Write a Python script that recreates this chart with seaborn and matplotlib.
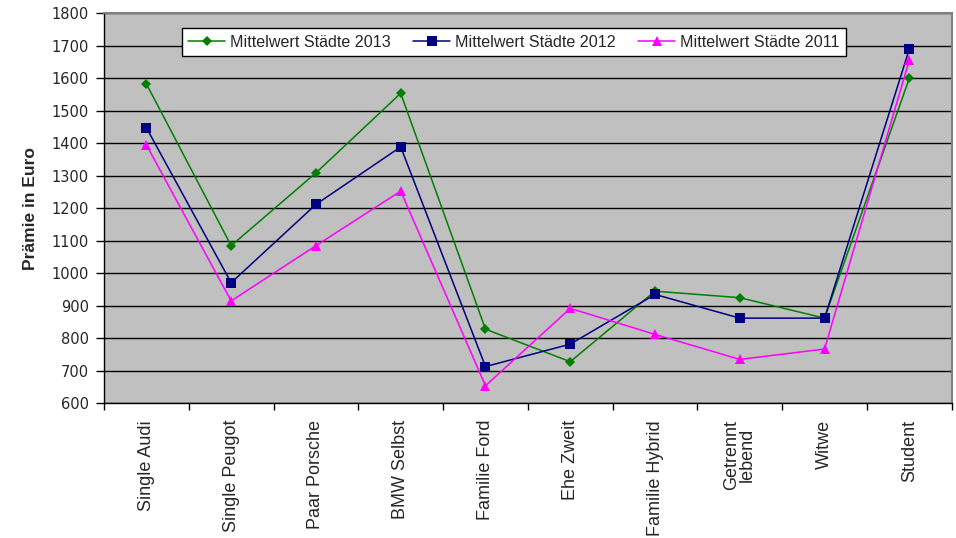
import pandas as pd
import matplotlib
matplotlib.use("Agg")
import matplotlib.pyplot as plt
import seaborn as sns
import numpy as np

# Daten
kategorien = ["Single Audi", "Single Peugot", "Paar Porsche", "BMW Selbst",
              "Familie Ford", "Ehe Zweit", "Familie Hybrid", "Getrennt\nlebend",
              "Witwe", "Student"]
werte_2013 = [1583, 1085, 1309, 1554, 828, 728, 945, 925, 862, 1600]
werte_2012 = [1448, 971, 1212, 1389, 713, 782, 935, 862, 862, 1690]
werte_2011 = [1395, 915, 1085, 1253, 654, 892, 812, 735, 767, 1656]
serien = ["Mittelwert Städte 2013", "Mittelwert Städte 2012", "Mittelwert Städte 2011"]

# DataFrame (long form)
zeilen = []
for name, werte in zip(serien, [werte_2013, werte_2012, werte_2011]):
    for i, w in enumerate(werte):
        zeilen.append({"Pos": i, "Wert": w, "Serie": name})
df = pd.DataFrame(zeilen)

sns.set_style("white")
plt.rcParams["font.family"] = ["Liberation Sans", "DejaVu Sans"]

fig = plt.figure(figsize=(9.56, 5.38), dpi=100)
ax = fig.add_axes([0.1088, 0.2504, 0.8867, 0.7248])
ax.set_facecolor("#C0C0C0")

farben = {serien[0]: "#008000", serien[1]: "#000080", serien[2]: "#FF00FF"}
marker = {serien[0]: "D", serien[1]: "s", serien[2]: "^"}
groesse = {serien[0]: 5, serien[1]: 7, serien[2]: 7}

for s in serien:
    sns.lineplot(data=df[df["Serie"] == s], x="Pos", y="Wert", color=farben[s],
                 marker=marker[s], markersize=groesse[s], markeredgewidth=0,
                 linewidth=1.1, label=s, ax=ax, zorder=3)

ax.set_xlim(-0.5, 9.5)
ax.set_ylim(600, 1800)
ax.set_yticks(np.arange(600, 1801, 100))
ax.yaxis.grid(True, color="black", linewidth=1)
ax.set_axisbelow(True)

ax.set_xticks(range(len(kategorien)))
ax.set_xticklabels(kategorien, rotation=90, fontsize=13, linespacing=0.9)
ax.set_xticks(np.arange(-0.5, 10, 1), minor=True)
ax.tick_params(axis="x", which="major", length=0, pad=12)
ax.tick_params(axis="x", which="minor", length=5, width=1, color="black", direction="out")
ax.tick_params(axis="y", length=6, width=1, color="black", direction="out", pad=5)
for lbl in ax.get_yticklabels():
    lbl.set_fontfamily("DejaVu Sans")
    lbl.set_fontsize(10.5)
ax.xaxis.set_ticks_position("bottom")
ax.yaxis.set_ticks_position("left")

ax.set_xlabel("")
ax.set_ylabel("Prämie in Euro", fontsize=12.5, fontweight="bold", labelpad=9.5)

for seite in ["left", "bottom"]:
    ax.spines[seite].set_color("black")
    ax.spines[seite].set_linewidth(1)
for seite in ["top", "right"]:
    ax.spines[seite].set_color("#808080")
    ax.spines[seite].set_linewidth(1.5)

leg = ax.legend(loc="upper center", bbox_to_anchor=(0.4835, 0.962), ncol=3,
                fontsize=11.6, frameon=True, fancybox=False, framealpha=1,
                edgecolor="black", borderpad=0.4, handlelength=2.3,
                handletextpad=0.3, columnspacing=1.4, borderaxespad=0)
leg.get_frame().set_linewidth(1)

fig.savefig("out.png", dpi=100)
